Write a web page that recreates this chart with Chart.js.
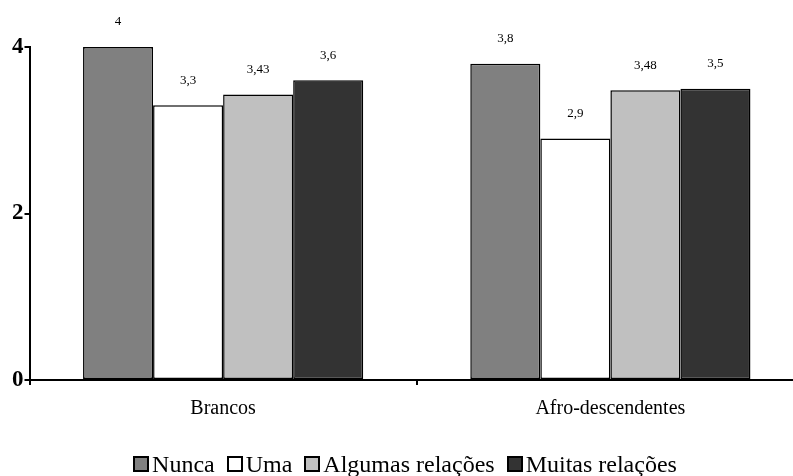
<!DOCTYPE html>
<html>
<head>
<meta charset="utf-8">
<script src="https://cdn.jsdelivr.net/npm/chart.js@4/dist/chart.umd.min.js"></script>
<style>
  html, body { margin: 0; padding: 0; background: #fff; overflow: hidden; }
  #wrap { width: 810px; height: 476px; position: relative; }
  #legend { position: absolute; left: 0; width: 810px; top: 450px; display: flex; justify-content: center;
            font-family: "Liberation Serif"; font-size: 24px; line-height: 28px; color: #000; }
  #legend span.item { display: flex; align-items: center; margin: 0 6px; }
  #legend span.box { display: inline-block; width: 16px; height: 16px; box-sizing: border-box;
                     border: 2px solid #000; margin-right: 3px; }
</style>
</head>
<body>
<div id="wrap"><canvas id="bar-chart"></canvas><div id="legend"></div></div>
<script>
const groups = ['Brancos', 'Afro-descendentes'];
const seriesNames = ['Nunca', 'Uma', 'Algumas relações', 'Muitas relações'];
const nunca = [4, 3.8];
const uma = [3.3, 2.9];
const algumas = [3.43, 3.48];
const muitas = [3.6, 3.5];
const valueLabels = [['4', '3,8'], ['3,3', '2,9'], ['3,43', '3,48'], ['3,6', '3,5']];
const yTicks = [0, 2, 4];

const fills = ['#808080', '#ffffff', '#c0c0c0', '#333333'];
const serif = 'Liberation Serif';

const valueLabelPlugin = {
    id: 'valueLabels',
    afterDatasetsDraw(chart) {
        const ctx = chart.ctx;
        ctx.save();
        ctx.font = '13px "' + serif + '"';
        ctx.fillStyle = '#000';
        ctx.textAlign = 'center';
        ctx.textBaseline = 'middle';
        chart.data.datasets.forEach((ds, i) => {
            chart.getDatasetMeta(i).data.forEach((bar, j) => {
                ctx.fillText(valueLabels[i][j], bar.x, bar.y - 25);
            });
        });
        ctx.restore();
    }
};

const Ctx = document.getElementById('bar-chart').getContext('2d');
const barchart = new Chart(Ctx, {
    type: 'bar',
    data: {
        labels: groups,
        datasets: [nunca, uma, algumas, muitas].map((vals, i) => ({
            label: seriesNames[i],
            data: vals,
            backgroundColor: fills[i],
            borderColor: '#000',
            borderWidth: 1.5,
            borderSkipped: false,
            categoryPercentage: 0.7235,
            barPercentage: 1
        }))
    },
    options: {
        responsive: true,
        maintainAspectRatio: false,
        animation: false,
        layout: { padding: { top: 47, right: 6, bottom: 43, left: 11 } },
        scales: {
            x: {
                grid: { offset: true, drawOnChartArea: false, drawTicks: true, tickLength: 5, color: '#000', lineWidth: 2 },
                border: { color: '#000', width: 2 },
                ticks: { color: '#000', font: { family: serif, size: 20 }, padding: 12 }
            },
            y: {
                min: 0,
                max: 4,
                afterBuildTicks: (axis) => { axis.ticks = yTicks.map(v => ({ value: v })); },
                grid: { drawOnChartArea: false, drawTicks: true, tickLength: 5, color: '#000', lineWidth: 2 },
                border: { color: '#000', width: 2 },
                ticks: { color: '#000', font: { family: serif, size: 23, weight: 'bold' }, padding: 1 }
            }
        },
        plugins: {
            tooltip: { enabled: false },
            legend: { display: false }
        }
    },
    plugins: [valueLabelPlugin]
});

const legendEl = document.getElementById('legend');
seriesNames.forEach((name, i) => {
    const item = document.createElement('span');
    item.className = 'item';
    const box = document.createElement('span');
    box.className = 'box';
    box.style.background = fills[i];
    item.appendChild(box);
    item.appendChild(document.createTextNode(name));
    legendEl.appendChild(item);
});
</script>
</body>
</html>
